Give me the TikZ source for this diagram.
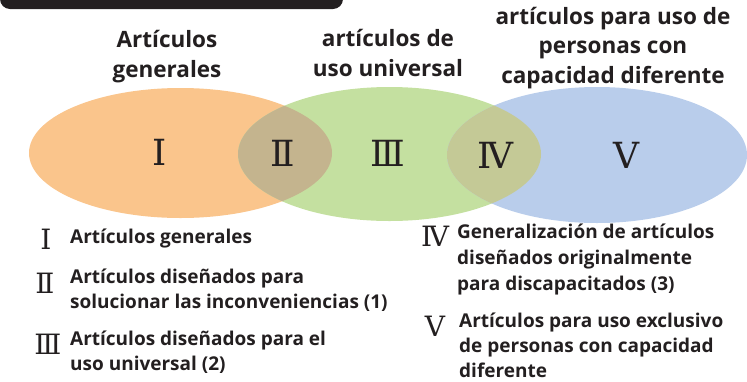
\documentclass[tikz,border=0pt]{standalone}
\usepackage{fontspec}
\setmainfont{Open Sans}
\newfontfamily\numfont{DejaVu Serif}
\definecolor{ink}{HTML}{231F20}
\definecolor{orangeF}{HTML}{FAC58C}
\definecolor{greenF}{HTML}{C4E0A0}
\definecolor{blueF}{HTML}{B9CDEB}
\definecolor{lensA}{HTML}{C4B48E}
\definecolor{lensB}{HTML}{C4C996}
\begin{document}
\begin{tikzpicture}[x=1pt,y=-1pt,
  head/.style={align=center,inner sep=0pt,anchor=base,text=ink,font=\fontsize{22.5}{29.5}\selectfont\bfseries},
  legtext/.style={align=left,inner sep=0pt,anchor=base west,text=ink,font=\fontsize{19}{25}\selectfont\bfseries},
  legtextwide/.style={legtext,font=\fontsize{19}{26}\selectfont\bfseries},
  bignum/.style={inner sep=0pt,text=ink,font=\numfont\fontsize{36}{36}\selectfont},
  smallnum/.style={inner sep=0pt,text=ink,font=\numfont\fontsize{28}{28}\selectfont}]
\useasboundingbox (0,0) rectangle (747,381);
% top banner
\fill[ink] (0,-12) -- (343,-12) [rounded corners=10pt] -- (343,9) -- (0,9) -- cycle;
% ellipses
\fill[orangeF] (180.5,153) ellipse [x radius=151.5, y radius=65];
\fill[greenF] (389.5,154) ellipse [x radius=151.5, y radius=67];
\fill[blueF] (597,155) ellipse [x radius=150, y radius=68];
\begin{scope}
  \clip (180.5,153) ellipse [x radius=151.5, y radius=65];
  \fill[lensA] (389.5,154) ellipse [x radius=151.5, y radius=67];
\end{scope}
\begin{scope}
  \clip (389.5,154) ellipse [x radius=151.5, y radius=67];
  \fill[lensB] (597,155) ellipse [x radius=150, y radius=68];
\end{scope}
% headings (base = last line)
\node[head] (h1) at (167,77) {Artículos\\generales};
\node[head] (h2) at (388,76) {artículos de\\uso universal};
\node[head] (h3) at (613,83) {artículos para uso de\\personas con\\capacidad diferente};
% numerals in ellipses
\node[bignum] (n1) at (160,152) {Ⅰ};
\node[bignum] (n2) at (283,153) {Ⅱ};
\node[bignum] (n3) at (388,153) {Ⅲ};
\node[bignum] (n4) at (495,155) {Ⅳ};
\node[bignum] (n5) at (626,155) {Ⅴ};
% legend left
\node[smallnum] (l1) at (46,239) {Ⅰ};
\node[legtext] (t1) at (70,243) {Artículos generales};
\node[smallnum] (l2) at (45,283) {Ⅱ};
\node[legtext] (t2) at (70,308) {Artículos diseñados para\\solucionar las inconveniencias (1)};
\node[smallnum] (l3) at (48,344) {Ⅲ};
\node[legtext] (t3) at (70,370) {Artículos diseñados para el\\uso universal (2)};
% legend right
\node[smallnum] (l4) at (435,236) {Ⅳ};
\node[legtextwide] (t4) at (457,290) {Generalización de artículos\\diseñados originalmente\\para discapacitados (3)};
\node[smallnum] (l5) at (435,326) {Ⅴ};
\node[legtext] (t5) at (459,377) {Artículos para uso exclusivo\\de personas con capacidad\\diferente};
\end{tikzpicture}
\end{document}
